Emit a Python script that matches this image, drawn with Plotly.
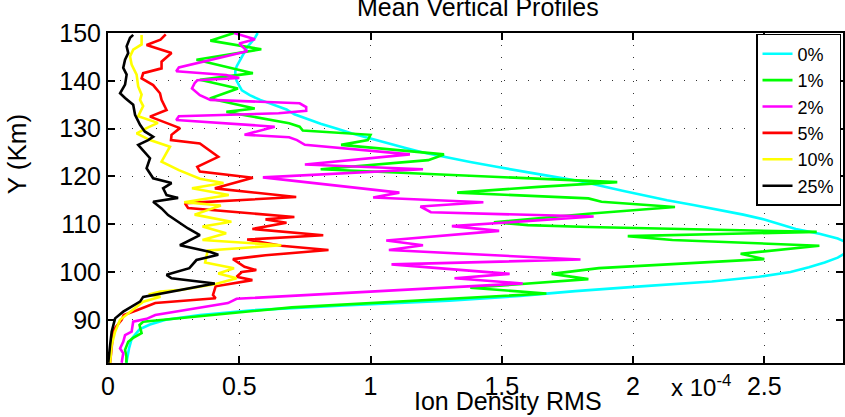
import numpy as np
import plotly.graph_objects as go

# ---------------- data (x values in units of 1e-4) ----------------
y_0 = [81, 84, 86, 88, 89, 90, 91, 92, 93, 94, 95, 96, 97, 98, 99, 100,
       101, 102, 103, 104, 105, 106, 107, 108, 109, 110,
       111, 112, 113, 114, 115, 116, 117, 118, 119, 120,
       121, 122, 123, 124, 125, 126, 127, 128, 129, 130,
       131, 132, 133, 134, 135, 136, 137, 138, 139, 140,
       141, 142, 143, 144, 145, 146, 147, 148, 149, 150]
x_0 = [0.07, 0.08, 0.09, 0.12, 0.16, 0.22, 0.35, 0.55, 0.9, 1.3, 1.57, 1.78, 2.03, 2.3, 2.48, 2.6,
       2.67, 2.73, 2.78, 2.81, 2.83, 2.82, 2.78, 2.71, 2.62, 2.56,
       2.5, 2.42, 2.33, 2.23, 2.13, 2.04, 1.96, 1.88, 1.8, 1.69,
       1.58, 1.48, 1.38, 1.29, 1.2, 1.13, 1.06, 1.0, 0.93, 0.87,
       0.81, 0.76, 0.71, 0.68, 0.63, 0.58, 0.54, 0.51, 0.5, 0.49,
       0.485, 0.485, 0.49, 0.5, 0.51, 0.52, 0.53, 0.545, 0.56, 0.57]

y_1 = [150, 148.4, 146.6, 144.4, 141.6, 140.2, 138.4, 136.3, 134.2, 133.5,
       131.1, 130.4, 129.6, 128.7, 127.6, 126.6, 124.6, 123.4, 121.5, 118.8,
       117.8, 116.6, 115.4, 114.7, 113.6, 112.2, 110.4, 109.8, 109.4, 108.4,
       107.5, 106.7, 105.5, 103.8, 102.7, 100.8, 99.6, 98.5, 96.7, 95.5,
       92.6, 89.6, 88.9, 87.2, 86.2, 85.4, 83.7, 82.3, 81]
x_1 = [0.48, 0.39, 0.584, 0.337, 0.552, 0.35, 0.495, 0.388, 0.559, 0.451,
       0.69, 0.73, 0.742, 1.0, 0.99, 0.888, 1.28, 1.22, 0.81, 1.94,
       1.64, 1.33, 1.83, 1.88, 2.16, 1.83, 1.47, 1.6, 1.83, 2.70,
       1.98, 2.15, 2.71, 2.41, 2.50, 1.87, 1.69, 1.83, 1.38, 1.67,
       0.7, 0.134, 0.12, 0.128, 0.096, 0.077, 0.065, 0.07, 0.07]

y_2 = [150, 148.7, 147.8, 146.2, 142.8, 142.0, 141.2, 140.6, 140.1, 139.5,
       138.4, 137.0, 136.0, 135.3, 134.5, 133.7, 133.2, 132.6, 131.8, 130.4,
       128.7, 128.2, 127.6, 126.6, 124.6, 122.5, 121.5, 119.8, 116.6, 115.6,
       114.6, 113.7, 112.5, 111.6, 109.6, 108.6, 106.6, 105.6, 104.6, 102.6,
       101.6, 99.6, 98.7, 97.6, 94.4, 93.5, 91.0, 90.2, 89.6, 87.5,
       86.8, 85.4, 84.0, 83.0, 81.0]
x_2 = [0.48, 0.56, 0.50, 0.53, 0.27, 0.26, 0.45, 0.50, 0.34, 0.33,
       0.32, 0.35, 0.39, 0.73, 0.755, 0.755, 0.65, 0.27, 0.26, 0.635,
       0.52, 0.69, 0.72, 0.75, 1.15, 0.75, 1.20, 0.59, 1.11, 1.01,
       1.43, 1.19, 1.23, 1.85, 1.31, 1.49, 1.06, 1.20, 1.07, 1.80,
       1.08, 1.53, 1.32, 1.58, 0.49, 0.457, 0.18, 0.147, 0.096, 0.09,
       0.065, 0.058, 0.046, 0.058, 0.052]

y_5 = [149.7, 148.6, 147.5, 145.8, 144.0, 142.6, 141.6, 140.5, 139.1, 137.4,
       136.0, 133.9, 132.5, 130.1, 128.7, 127.6, 126.9, 124.1, 122.0, 121.0,
       119.7, 117.5, 115.7, 114.4, 113.4, 111.9, 111.5, 111.0, 110.3, 109.0,
       107.7, 106.8, 105.5, 104.6, 103.5, 102.7, 101.1, 100.4, 100.0, 99.0,
       98.3, 97.0, 95.2, 94.5, 93.5, 92.0, 91.0, 90.0, 88.5, 87.5,
       84.7, 81.0]
x_5 = [0.22, 0.20, 0.147, 0.242, 0.204, 0.204, 0.134, 0.128, 0.172, 0.198,
       0.204, 0.223, 0.16, 0.274, 0.242, 0.24, 0.35, 0.42, 0.34, 0.35,
       0.552, 0.407, 0.717, 0.293, 0.305, 0.64, 0.71, 0.60, 0.68, 0.55,
       0.82, 0.53, 0.66, 0.84, 0.6, 0.476, 0.52, 0.565, 0.51, 0.49,
       0.55, 0.41, 0.40, 0.41, 0.18, 0.11, 0.06, 0.052, 0.03, 0.02,
       0.014, 0.008]

y_10 = [149.6, 147.6, 146.5, 145.1, 143.4, 141.3, 138.8, 137.1, 136.0, 134.7,
        132.6, 131.2, 130.1, 129.0, 127.6, 126.2, 123.1, 121.3, 119.5, 118.6,
        117.5, 116.1, 114.6, 113.9, 112.0, 110.5, 109.5, 108.1, 106.7, 105.6,
        104.5, 102.0, 100.8, 99.7, 98.7, 97.5, 96.2, 95.9, 95.3, 94.8,
        93.8, 91.7, 90.0, 87.5, 84.7, 81.0]
x_10 = [0.128, 0.128, 0.096, 0.084, 0.09, 0.109, 0.115, 0.128, 0.122, 0.134,
        0.115, 0.19, 0.147, 0.109, 0.16, 0.236, 0.204, 0.27, 0.35, 0.44,
        0.32, 0.46, 0.29, 0.43, 0.33, 0.47, 0.36, 0.45, 0.36, 0.66,
        0.38, 0.37, 0.48, 0.42, 0.49, 0.41, 0.27, 0.2, 0.155, 0.2,
        0.134, 0.084, 0.046, 0.027, 0.014, 0.008]

y_25 = [149.6, 149.0, 147.2, 145.8, 144.4, 142.7, 141.3, 139.2, 137.4, 136.4,
        135.0, 132.9, 130.8, 129.4, 128.3, 127.6, 126.6, 123.8, 121.7, 119.6,
        118.6, 117.5, 116.1, 115.5, 114.7, 113.3, 111.9, 109.1, 107.7, 105.6,
        104.2, 103.6, 102.5, 100.8, 99.4, 98.7, 97.6, 94.8, 93.8, 91.7,
        90.3, 87.5, 84.7, 81.0]
x_25 = [0.096, 0.084, 0.071, 0.077, 0.065, 0.058, 0.071, 0.065, 0.046, 0.065,
        0.096, 0.103, 0.122, 0.14, 0.172, 0.153, 0.115, 0.16, 0.147, 0.172,
        0.242, 0.21, 0.223, 0.267, 0.172, 0.204, 0.229, 0.305, 0.35, 0.274,
        0.39, 0.42, 0.337, 0.31, 0.223, 0.242, 0.407, 0.134, 0.122, 0.058,
        0.027, 0.014, 0.008, 0.001]

series_names = ["0%", "1%", "2%", "5%", "10%", "25%"]
series_x = [x_0, x_1, x_2, x_5, x_10, x_25]
series_y = [y_0, y_1, y_2, y_5, y_10, y_25]
series_colors = ["#00FFFF", "#00FF00", "#FF00FF", "#FF0000", "#FFFF00", "#000000"]

x_tick_vals = [0, 0.5, 1, 1.5, 2, 2.5]
x_tick_text = ["0", "0.5", "1", "1.5", "2", "2.5"]
y_tick_vals = [90, 100, 110, 120, 130, 140, 150]
SCALE = 1e-4

# ---------------- figure ----------------
W, H = 845, 417
L, R, T, B = 108, 0, 33, 54
FONT = "Liberation Sans, Arial, Helvetica, sans-serif"

fig = go.Figure()
for nm, xs, ys, col in zip(series_names, series_x, series_y, series_colors):
    fig.add_trace(go.Scatter(
        x=np.array(xs) * SCALE, y=ys, mode="lines", name=nm,
        line=dict(color=col, width=2.6)))

axis_common = dict(
    showline=True, linecolor="black", linewidth=2, mirror="ticks",
    ticks="inside", ticklen=7, tickwidth=1.5, tickcolor="black",
    showgrid=True, gridcolor="#333333", gridwidth=1, griddash="1px,11px",
    zeroline=False, tickfont=dict(family=FONT, size=25, color="black"),
)

fig.update_layout(
    width=W, height=H,
    margin=dict(l=L, r=R, t=T, b=B),
    paper_bgcolor="white", plot_bgcolor="white",
    font=dict(family=FONT, color="black"),
    xaxis=dict(range=[0, 2.8 * SCALE],
               tickvals=[v * SCALE for v in x_tick_vals],
               ticktext=x_tick_text, **axis_common),
    yaxis=dict(range=[80.96, 150], tickvals=y_tick_vals, **axis_common),
    legend=dict(x=0.9973, xanchor="right", y=0.997, yanchor="top",
                bgcolor="white", bordercolor="black", borderwidth=1.5,
                font=dict(family=FONT, size=18, color="black"),
                tracegroupgap=0, itemwidth=30),
    showlegend=True,
)

pw, ph = W - L - R, H - T - B
def px_x(p):
    return (p - L) / pw
def px_y(p):
    return (H - B - p) / ph

fig.add_annotation(text="Mean Vertical Profiles", xref="paper", yref="paper",
                   x=px_x(479), y=px_y(23), xanchor="center", yanchor="bottom",
                   showarrow=False, font=dict(family=FONT, size=25, color="black"))
fig.add_annotation(text="Ion Density RMS", xref="paper", yref="paper",
                   x=px_x(509), y=px_y(401), xanchor="center", yanchor="middle",
                   showarrow=False, font=dict(family=FONT, size=25, color="black"))
fig.add_annotation(text="Y (Km)", xref="paper", yref="paper",
                   x=px_x(17), y=px_y(154), xanchor="center", yanchor="middle",
                   textangle=-90, showarrow=False,
                   font=dict(family=FONT, size=26, color="black"))
fig.add_annotation(text="x 10<sup>-4</sup>", xref="paper", yref="paper",
                   x=px_x(671), y=px_y(386), xanchor="left", yanchor="middle",
                   showarrow=False, font=dict(family=FONT, size=24, color="black"))

fig.write_html("out.html")
